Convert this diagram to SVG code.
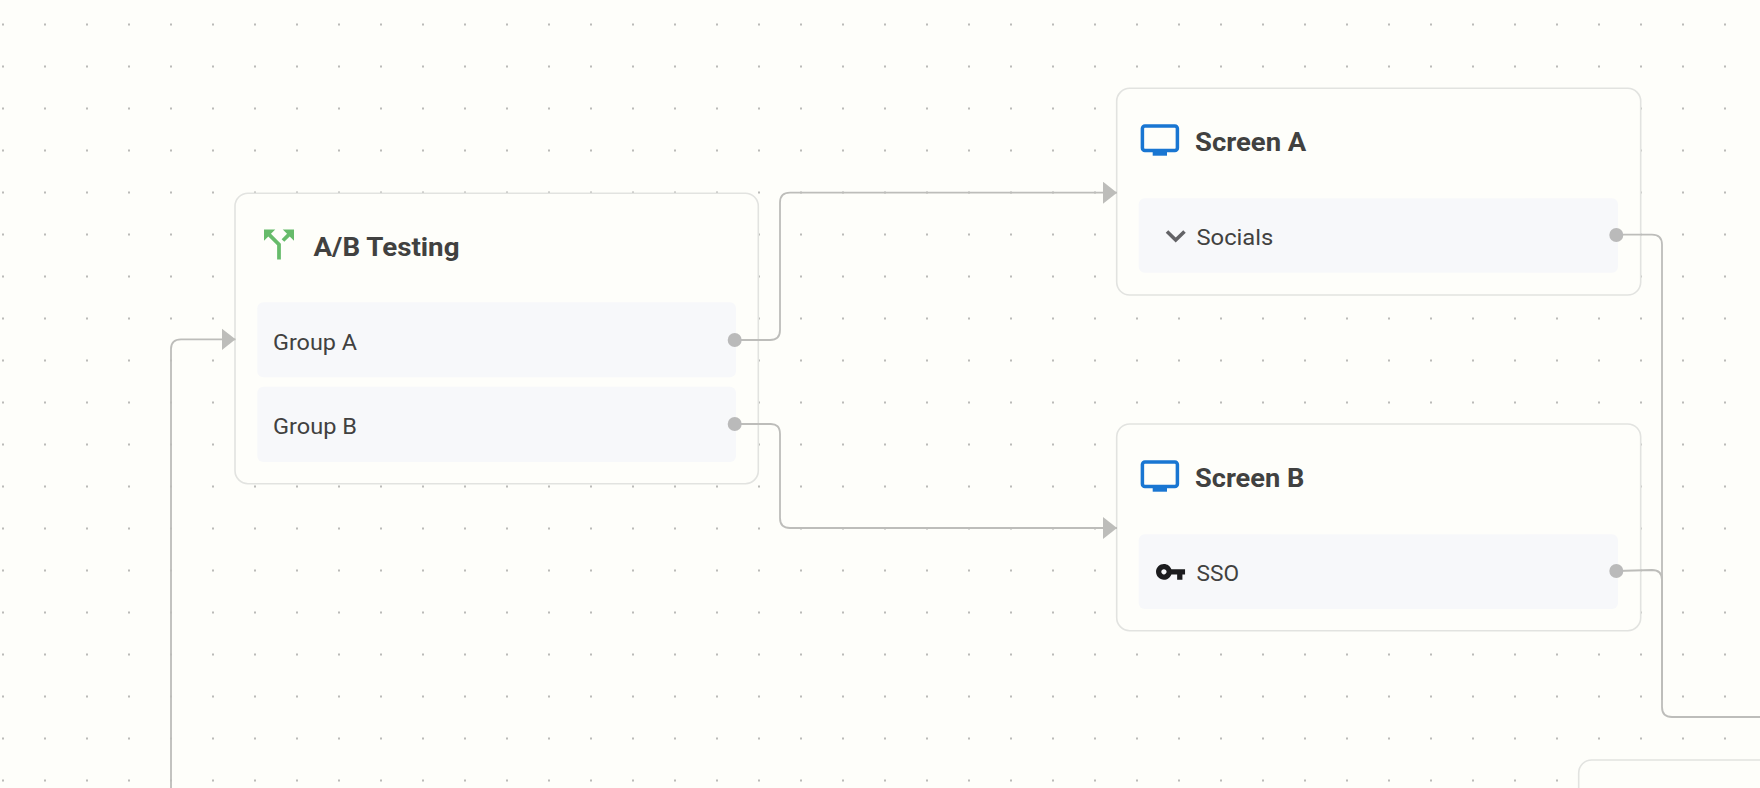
<svg xmlns="http://www.w3.org/2000/svg" width="1760" height="788" viewBox="0 0 1760 788">
<style>
.card{fill:#fefefa;stroke:#e2e3e0;stroke-width:1.6}
.row{fill:#f7f8fa}
.title{font-family:Roboto,"Liberation Sans",sans-serif;font-weight:700;font-size:26px;fill:#414140}
.label{font-family:Roboto,"Liberation Sans",sans-serif;font-weight:400;font-size:22.5px;fill:#414140}
.edge{fill:none;stroke:#bdbdba;stroke-width:1.8}
.port{fill:#bababa}
.monitor{fill:none;stroke:#1976d2;stroke-width:3.5}
.stand{fill:#1976d2}
</style>
<defs>
<pattern id="dots" x="3" y="24.5" width="42" height="42" patternUnits="userSpaceOnUse">
<circle cx="0" cy="0" r="1" fill="#a4a4a2"/><circle cx="42" cy="0" r="1" fill="#a4a4a2"/><circle cx="0" cy="42" r="1" fill="#a4a4a2"/><circle cx="42" cy="42" r="1" fill="#a4a4a2"/>
</pattern>
<marker id="arrow" markerUnits="userSpaceOnUse" markerWidth="15" markerHeight="23" refX="14" refY="11" orient="auto">
<path d="M0 0L14 11L0 22Z" fill="#bdbdba"/>
</marker>
</defs>
<rect width="1760" height="788" fill="#fefefa"/>
<rect width="1760" height="788" fill="url(#dots)"/>
<g id="node-ab-testing">
<rect class="card" x="235" y="193.2" width="523.3" height="290.5" rx="13"/>
<path d="M14 4l2.29 2.29-2.88 2.88 1.42 1.42 2.88-2.88L20 10V4h-6zm-4 0H4v6l2.29-2.29 4.71 4.7V20h2v-8.41l-5.29-5.3L10 4z" transform="translate(256.5 222) scale(1.875)" fill="#66bb6a"/>
<text class="title" x="313.5" y="256" textLength="146" lengthAdjust="spacingAndGlyphs">A/B Testing</text>
<rect class="row" x="257.3" y="302.3" width="478.7" height="75" rx="6"/>
<text class="label" x="273" y="350" textLength="84" lengthAdjust="spacingAndGlyphs">Group A</text>
<rect class="row" x="257.3" y="386.7" width="478.7" height="75.3" rx="6"/>
<text class="label" x="273" y="434" textLength="84" lengthAdjust="spacingAndGlyphs">Group B</text>
</g>
<g id="node-screen-a">
<rect class="card" x="1116.7" y="88.3" width="524" height="206.7" rx="13"/>
<rect class="monitor" x="1142.4" y="126" width="35" height="24.4" rx="2.5"/>
<rect class="stand" x="1152.7" y="151" width="14.3" height="4.7"/>
<text class="title" x="1195" y="151" textLength="111.3" lengthAdjust="spacingAndGlyphs">Screen A</text>
<rect class="row" x="1138.7" y="198.3" width="479.3" height="74.4" rx="6"/>
<path d="M1167 231.5L1175.7 240L1184.5 231.5" fill="none" stroke="#636366" stroke-width="3.6"/>
<text class="label" x="1196.5" y="244.7" textLength="76.8" lengthAdjust="spacingAndGlyphs">Socials</text>
</g>
<g id="node-screen-b">
<rect class="card" x="1116.7" y="424" width="524" height="206.7" rx="13"/>
<rect class="monitor" x="1142.4" y="462" width="35" height="24.4" rx="2.5"/>
<rect class="stand" x="1152.7" y="487" width="14.3" height="4.7"/>
<text class="title" x="1195" y="487" textLength="109.3" lengthAdjust="spacingAndGlyphs">Screen B</text>
<rect class="row" x="1138.7" y="534.3" width="479.3" height="74.7" rx="6"/>
<path d="M12.65 10C11.83 7.67 9.61 6 7 6c-3.31 0-6 2.69-6 6s2.69 6 6 6c2.61 0 4.83-1.67 5.65-4H17v4h4v-4h2v-4H12.65zM7 14c-1.1 0-2-.9-2-2s.9-2 2-2 2 .9 2 2-.9 2-2 2z" transform="translate(1154.7 556) scale(1.32)" fill="#1c1c1e"/>
<text class="label" x="1196.5" y="581" textLength="42.5" lengthAdjust="spacingAndGlyphs">SSO</text>
</g>
<g id="node-partial">
<rect class="card" x="1578.7" y="760" width="220" height="140" rx="13"/>
</g>
<g id="connectors">
<path class="edge" d="M171 788V349Q171 339.3 181 339.3H235.5" marker-end="url(#arrow)"/>
<path class="edge" d="M734.7 340H770Q780 340 780 330V202.7Q780 192.7 790 192.7H1117" marker-end="url(#arrow)"/>
<path class="edge" d="M734.7 424H770Q780 423.5 780 434V518Q780 528 790 528H1117" marker-end="url(#arrow)"/>
<path class="edge" d="M1616.3 234.6H1652Q1662 234.6 1662 244.6V707Q1662 717 1672 717H1760"/>
<path class="edge" d="M1616.3 571L1652 570Q1662 570 1662 580V700"/>
<circle class="port" cx="734.7" cy="340" r="7"/>
<circle class="port" cx="734.7" cy="424" r="7"/>
<circle class="port" cx="1616.3" cy="235" r="7"/>
<circle class="port" cx="1616.3" cy="571" r="7"/>
</g>
</svg>
